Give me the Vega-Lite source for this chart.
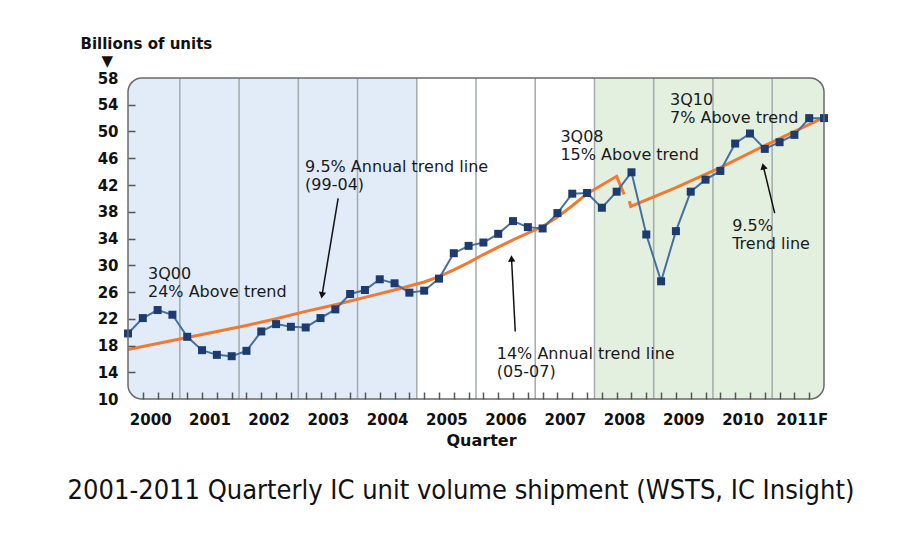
{
  "$schema": "https://vega.github.io/schema/vega-lite/v6.json",
  "width": 696,
  "height": 321,
  "autosize": {"type": "none"},
  "padding": {"left": 128, "top": 78, "right": 76, "bottom": 141},
  "background": "white",
  "config": {"view": {"stroke": null}, "font": "DejaVu Sans"},
  "title": {
    "text": "2001-2011 Quarterly IC unit volume shipment (WSTS, IC Insight)",
    "orient": "bottom",
    "anchor": "middle",
    "font": "Liberation Sans Narrow, DejaVu Sans Condensed",
    "fontSize": 27,
    "fontWeight": "normal",
    "color": "#111111",
    "offset": 30,
    "dx": -15
  },
  "datasets": {
    "series": [
      {"q": 0, "v": 19.8}, {"q": 1, "v": 22.1}, {"q": 2, "v": 23.3}, {"q": 3, "v": 22.6},
      {"q": 4, "v": 19.3}, {"q": 5, "v": 17.3}, {"q": 6, "v": 16.6}, {"q": 7, "v": 16.4},
      {"q": 8, "v": 17.2}, {"q": 9, "v": 20.1}, {"q": 10, "v": 21.2}, {"q": 11, "v": 20.8},
      {"q": 12, "v": 20.7}, {"q": 13, "v": 22.1}, {"q": 14, "v": 23.4}, {"q": 15, "v": 25.7},
      {"q": 16, "v": 26.3}, {"q": 17, "v": 27.9}, {"q": 18, "v": 27.3}, {"q": 19, "v": 25.9},
      {"q": 20, "v": 26.2}, {"q": 21, "v": 28.0}, {"q": 22, "v": 31.8}, {"q": 23, "v": 32.9},
      {"q": 24, "v": 33.4}, {"q": 25, "v": 34.7}, {"q": 26, "v": 36.6}, {"q": 27, "v": 35.7},
      {"q": 28, "v": 35.5}, {"q": 29, "v": 37.8}, {"q": 30, "v": 40.7}, {"q": 31, "v": 40.8},
      {"q": 32, "v": 38.6}, {"q": 33, "v": 41.0}, {"q": 34, "v": 43.9}, {"q": 35, "v": 34.6},
      {"q": 36, "v": 27.6}, {"q": 37, "v": 35.1}, {"q": 38, "v": 41.0}, {"q": 39, "v": 42.8},
      {"q": 40, "v": 44.1}, {"q": 41, "v": 48.2}, {"q": 42, "v": 49.7}, {"q": 43, "v": 47.4},
      {"q": 44, "v": 48.4}, {"q": 45, "v": 49.5}, {"q": 46, "v": 52.0}, {"q": 47, "v": 52.0}
    ],
    "trend": [
      {"seg": "A", "q": 0, "v": 17.4}, {"seg": "A", "q": 2, "v": 18.3}, {"seg": "A", "q": 4, "v": 19.2},
      {"seg": "A", "q": 6, "v": 20.1}, {"seg": "A", "q": 8, "v": 21.0}, {"seg": "A", "q": 10, "v": 22.0},
      {"seg": "A", "q": 12, "v": 23.1}, {"seg": "A", "q": 14, "v": 24.1}, {"seg": "A", "q": 16, "v": 25.2},
      {"seg": "A", "q": 18, "v": 26.3}, {"seg": "A", "q": 20, "v": 27.5}, {"seg": "A", "q": 21, "v": 28.3},
      {"seg": "A", "q": 22, "v": 29.3}, {"seg": "A", "q": 23, "v": 30.4}, {"seg": "A", "q": 24, "v": 31.6},
      {"seg": "A", "q": 25, "v": 32.7}, {"seg": "A", "q": 26, "v": 33.8}, {"seg": "A", "q": 27, "v": 34.8},
      {"seg": "A", "q": 28, "v": 35.8}, {"seg": "A", "q": 29, "v": 37.2}, {"seg": "A", "q": 30, "v": 38.9},
      {"seg": "A", "q": 31, "v": 40.7}, {"seg": "A", "q": 32, "v": 42.0}, {"seg": "A", "q": 33, "v": 43.3},
      {"seg": "A", "q": 33.5, "v": 40.6},
      {"seg": "B", "q": 33.85, "v": 39.6}, {"seg": "B", "q": 33.95, "v": 38.8}, {"seg": "B", "q": 37, "v": 41.6},
      {"seg": "B", "q": 40, "v": 44.6}, {"seg": "B", "q": 43, "v": 47.9}, {"seg": "B", "q": 47, "v": 52.1}
    ],
    "bands": [
      {"zone": "1999-04", "x0": 0, "x1": 19.5, "y0": 10, "y1": 58},
      {"zone": "2008-11", "x0": 31.5, "x1": 47, "y0": 10, "y1": 58}
    ],
    "frame": [{"x0": 0, "x1": 47, "y0": 10, "y1": 58}],
    "seps": [
      {"q": 3.5}, {"q": 7.5}, {"q": 11.5}, {"q": 15.5}, {"q": 19.5}, {"q": 23.5},
      {"q": 27.5}, {"q": 31.5}, {"q": 35.5}, {"q": 39.5}, {"q": 43.5}
    ],
    "notes": [
      {"q": 1.35, "v": 29.9, "label": "3Q00\n24% Above trend"},
      {"q": 11.96, "v": 45.9, "label": "9.5% Annual trend line\n(99-04)"},
      {"q": 24.9, "v": 18.0, "label": "14%  Annual trend line\n(05-07)"},
      {"q": 29.2, "v": 50.3, "label": "3Q08\n15% Above trend"},
      {"q": 36.6, "v": 55.9, "label": "3Q10\n7% Above trend"},
      {"q": 40.8, "v": 37.0, "label": "9.5%\nTrend line"}
    ],
    "arrows": [
      {"id": "a1", "q0": 14.19, "v0": 40.0, "q1": 13.1, "v1": 25.5},
      {"id": "a2", "q0": 26.15, "v0": 20.1, "q1": 25.9, "v1": 31.0},
      {"id": "a3", "q0": 43.67, "v0": 37.8, "q1": 42.9, "v1": 44.8}
    ]
  },
  "layer": [
    {
      "data": {"name": "bands"},
      "transform": [{"filter": "datum.zone == '1999-04'"}],
      "mark": {"type": "rect", "color": "#e1ecf8", "cornerRadiusTopLeft": 14, "cornerRadiusBottomLeft": 14},
      "encoding": {
        "x": {
          "field": "x0", "type": "quantitative",
          "scale": {"domain": [0, 47], "nice": false, "zero": false},
          "axis": {
            "orient": "bottom", "zindex": 1, "offset": -7,
            "values": [1,2,3,4,5,6,7,8,9,10,11,12,13,14,15,16,17,18,19,20,21,22,23,24,25,26,27,28,29,30,31,32,33,34,35,36,37,38,39,40,41,42,43,44,45,46],
            "labelExpr": "datum.value % 4 == 1 ? (datum.value == 45 ? '2011F' : '' + (2000 + (datum.value - 1) / 4)) : ''",
            "labelOffset": 7.4,
            "ticks": true, "tickSize": 7, "tickColor": "#555555", "tickWidth": 1.5,
            "domain": false, "grid": false,
            "labelFont": "DejaVu Sans", "labelFontWeight": "bold", "labelFontSize": 15,
            "labelColor": "#111111", "labelPadding": 13, "labelFlush": false, "labelOverlap": false,
            "title": "Quarter", "titleFont": "DejaVu Sans", "titleFontSize": 16, "titleFontWeight": "bold",
            "titleColor": "#111111", "titlePadding": 5, "titleX": 353
          }
        },
        "x2": {"field": "x1"},
        "y": {
          "field": "y0", "type": "quantitative",
          "scale": {"domain": [10, 58], "nice": false, "zero": false},
          "axis": {
            "orient": "left", "zindex": 1, "offset": -7,
            "values": [10, 14, 18, 22, 26, 30, 34, 38, 42, 46, 50, 54, 58],
            "ticks": true, "tickSize": 7, "tickColor": "#555555", "tickWidth": 1.5,
            "tickOpacity": {"condition": {"test": "datum.value == 10 || datum.value == 58", "value": 0}, "value": 1},
            "domain": false, "grid": false,
            "labelFont": "DejaVu Sans", "labelFontWeight": "bold", "labelFontSize": 15,
            "labelColor": "#111111", "labelPadding": 10, "labelFlush": false, "labelOverlap": false,
            "title": ["Billions of units", "\u200b\u00a0\u00a0\u00a0\u00a0▼"],
            "titleAngle": 0, "titleAlign": "left", "titleBaseline": "alphabetic",
            "titleX": -55, "titleY": -30, "titleFont": "DejaVu Sans", "titleFontSize": 15,
            "titleFontWeight": "bold", "titleColor": "#111111", "titleLineHeight": 17
          }
        },
        "y2": {"field": "y1"}
      }
    },
    {
      "data": {"name": "bands"},
      "transform": [{"filter": "datum.zone == '2008-11'"}],
      "mark": {"type": "rect", "color": "#e3f0e0", "cornerRadiusTopRight": 14, "cornerRadiusBottomRight": 14},
      "encoding": {
        "x": {"field": "x0", "type": "quantitative", "axis": null},
        "x2": {"field": "x1"},
        "y": {"field": "y0", "type": "quantitative", "axis": null},
        "y2": {"field": "y1"}
      }
    },
    {
      "data": {"name": "seps"},
      "mark": {"type": "rule", "color": "#a3abae", "strokeWidth": 1.5},
      "encoding": {"x": {"field": "q", "type": "quantitative", "axis": null}}
    },
    {
      "data": {"name": "trend"},
      "mark": {"type": "line", "color": "#ee7a33", "strokeWidth": 3},
      "encoding": {
        "x": {"field": "q", "type": "quantitative", "axis": null},
        "y": {"field": "v", "type": "quantitative", "axis": null},
        "detail": {"field": "seg"}
      }
    },
    {
      "data": {"name": "series"},
      "mark": {
        "type": "line", "color": "#4670a0", "strokeWidth": 2,
        "point": {"shape": "square", "filled": true, "size": 64, "color": "#1d3b6e", "opacity": 1}
      },
      "encoding": {
        "x": {"field": "q", "type": "quantitative", "axis": null},
        "y": {"field": "v", "type": "quantitative", "axis": null}
      }
    },
    {
      "data": {"name": "arrows"},
      "mark": {"type": "rule", "color": "#111111", "strokeWidth": 1.5},
      "encoding": {
        "x": {"field": "q0", "type": "quantitative", "axis": null},
        "y": {"field": "v0", "type": "quantitative", "axis": null},
        "x2": {"field": "q1"},
        "y2": {"field": "v1"}
      }
    },
    {
      "data": {"name": "arrows"},
      "transform": [{"filter": "datum.id == 'a1'"}],
      "mark": {"type": "point", "shape": "triangle-down", "filled": true, "color": "#111111", "size": 55, "angle": 9.5, "opacity": 1},
      "encoding": {
        "x": {"field": "q1", "type": "quantitative", "axis": null},
        "y": {"field": "v1", "type": "quantitative", "axis": null}
      }
    },
    {
      "data": {"name": "arrows"},
      "transform": [{"filter": "datum.id == 'a2'"}],
      "mark": {"type": "point", "shape": "triangle-up", "filled": true, "color": "#111111", "size": 55, "angle": -3, "opacity": 1},
      "encoding": {
        "x": {"field": "q1", "type": "quantitative", "axis": null},
        "y": {"field": "v1", "type": "quantitative", "axis": null}
      }
    },
    {
      "data": {"name": "arrows"},
      "transform": [{"filter": "datum.id == 'a3'"}],
      "mark": {"type": "point", "shape": "triangle-up", "filled": true, "color": "#111111", "size": 55, "angle": -14, "opacity": 1},
      "encoding": {
        "x": {"field": "q1", "type": "quantitative", "axis": null},
        "y": {"field": "v1", "type": "quantitative", "axis": null}
      }
    },
    {
      "data": {"name": "notes"},
      "mark": {
        "type": "text", "align": "left", "baseline": "top", "lineBreak": "\n", "lineHeight": 18,
        "font": "DejaVu Sans", "fontSize": 16, "color": "#1a1a1a"
      },
      "encoding": {
        "x": {"field": "q", "type": "quantitative", "axis": null},
        "y": {"field": "v", "type": "quantitative", "axis": null},
        "text": {"field": "label"}
      }
    },
    {
      "data": {"name": "frame"},
      "mark": {"type": "rect", "fill": null, "stroke": "#6a6a6a", "strokeWidth": 1.5, "cornerRadius": 14},
      "encoding": {
        "x": {"field": "x0", "type": "quantitative", "axis": null},
        "x2": {"field": "x1"},
        "y": {"field": "y0", "type": "quantitative", "axis": null},
        "y2": {"field": "y1"}
      }
    }
  ],
  "resolve": {"axis": {"x": "independent", "y": "independent"}}
}
